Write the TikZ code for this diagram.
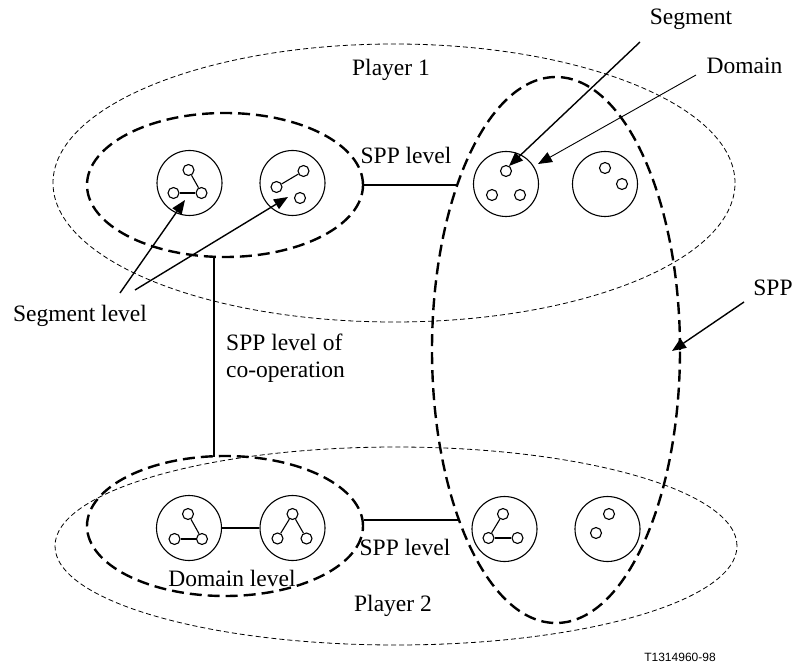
\documentclass[tikz,border=0pt]{standalone}
\usepackage{fontspec}
\setmainfont{Liberation Serif}
\newfontfamily\tagfont{Liberation Sans}
\usetikzlibrary{arrows.meta,shapes.geometric}

\tikzset{
  playerring/.style={draw, ellipse, inner sep=0pt, line width=0.8pt, dash pattern=on 5pt off 3pt},
  grpring/.style={draw, ellipse, inner sep=0pt, line width=2.4pt, dash pattern=on 12pt off 6pt},
  domcirc/.style={draw, circle, inner sep=0pt, minimum size=65pt, line width=1.1pt},
  segcirc/.style={draw, circle, inner sep=0pt, minimum size=11pt, line width=1.1pt},
  seglink/.style={line width=1.1pt},
  heavylink/.style={line width=2pt},
  coopline/.style={line width=1.5pt},
  pointer/.style={line width=1.4pt, -{Triangle[length=14pt,width=11pt]}},
  thinpointer/.style={line width=0.9pt, -{Triangle[length=14pt,width=11pt]}},
  lbl/.style={inner sep=0pt, font=\fontsize{23.5}{27}\selectfont}
}

\begin{document}
\begin{tikzpicture}[x=1pt, y=-1pt]
\useasboundingbox (0,0) rectangle (795,668);

% players and the SPP
\node[playerring, minimum width=682pt, minimum height=278pt] (player1) at (394,183) {};
\node[playerring, minimum width=682pt, minimum height=198pt] (player2) at (396,546) {};
\node[grpring, minimum width=248pt, minimum height=546pt] (spp) at (556,350) {};
\node[grpring, minimum width=276pt, minimum height=144pt] (grp1) at (225,185) {};
\node[grpring, minimum width=276pt, minimum height=140pt] (grp2) at (225,526) {};

% domains
\node[domcirc] (d11) at (189.5,183) {};
\node[domcirc] (d12) at (292.5,183) {};
\node[domcirc] (d13) at (506,184) {};
\node[domcirc] (d14) at (605,184) {};
\node[domcirc] (d21) at (189,528) {};
\node[domcirc] (d22) at (292.5,528) {};
\node[domcirc] (d23) at (504.5,529) {};
\node[domcirc] (d24) at (607.5,529) {};

% segments inside the domains
\node[segcirc] (a1t) at (188.5,170) {};
\node[segcirc] (a1l) at (173.5,193) {};
\node[segcirc] (a1r) at (201.5,193) {};
\draw[seglink] (a1t) -- (a1r);
\draw[heavylink] (a1l) -- (a1r);

\node[segcirc] (a2a) at (303.5,171) {};
\node[segcirc] (a2b) at (276.5,187) {};
\node[segcirc] (a2c) at (300,198) {};
\draw[seglink] (a2a) -- (a2b);

\node[segcirc] (a3t) at (506,171) {};
\node[segcirc] (a3l) at (492,195) {};
\node[segcirc] (a3r) at (520,195) {};

\node[segcirc] (a4a) at (605,168) {};
\node[segcirc] (a4b) at (622,184) {};

\node[segcirc] (b1t) at (188,514) {};
\node[segcirc] (b1l) at (174.5,539) {};
\node[segcirc] (b1r) at (202,539) {};
\draw[seglink] (b1t) -- (b1r);
\draw[heavylink] (b1l) -- (b1r);

\node[segcirc] (b2t) at (292.5,514) {};
\node[segcirc] (b2l) at (277.5,538.5) {};
\node[segcirc] (b2r) at (306.5,538.5) {};
\draw[seglink] (b2t) -- (b2l);
\draw[seglink] (b2t) -- (b2r);

\node[segcirc] (b3t) at (503,514) {};
\node[segcirc] (b3l) at (488.5,538) {};
\node[segcirc] (b3r) at (517.5,538) {};
\draw[seglink] (b3t) -- (b3l);
\draw[heavylink] (b3l) -- (b3r);

\node[segcirc] (b4a) at (609,514) {};
\node[segcirc] (b4b) at (596,533) {};

% co-operation lines
\coordinate (spp1) at (457,185);
\coordinate (spp2) at (459,520);
\draw[coopline] (grp1.east) -- (spp1);
\draw[coopline] (grp2.east |- spp2) -- (spp2);
\draw[coopline] (d21.east) -- (d22.west);
\coordinate (coopTop) at (214,256);
\coordinate (coopBot) at (214,457);
\draw[coopline] (coopTop) -- (coopBot);

% labels
\node[lbl] (segtxt) at (691,19) {Segment};
\node[lbl] (domtxt) at (744.5,66) {Domain};
\node[lbl] (p1txt) at (391,70) {Player 1};
\node[lbl] (spplv1) at (406,155) {SPP level};
\node[lbl] (seglv) at (80,316) {Segment level};
\node[lbl] (spptxt) at (773,288) {SPP};
\node[lbl, align=left, anchor=west] (cooptxt) at (226,358) {SPP level of\\co-operation};
\node[lbl] (spplv2) at (405,547) {SPP level};
\node[lbl] (domlv) at (232,578) {Domain level};
\node[lbl] (p2txt) at (393,606) {Player 2};
\node[inner sep=0pt, font=\tagfont\fontsize{12}{14}\selectfont] (tag) at (680,657) {T1314960-98};

% pointers
\coordinate (segA) at (120,293);
\coordinate (segB) at (135,290);
\coordinate (tip1) at (185,200);
\coordinate (tip2) at (288,197);
\draw[pointer] (segA) -- (tip1);
\draw[pointer] (segB) -- (tip2);

\coordinate (segS) at (640,42);
\coordinate (segT) at (509,166);
\draw[pointer] (segS) -- (segT);

\coordinate (domS) at (696,75);
\coordinate (domT) at (538,164);
\draw[thinpointer] (domS) -- (domT);

\coordinate (sppS) at (744,302);
\coordinate (sppT) at (672,351);
\draw[pointer] (sppS) -- (sppT);
\end{tikzpicture}
\end{document}
